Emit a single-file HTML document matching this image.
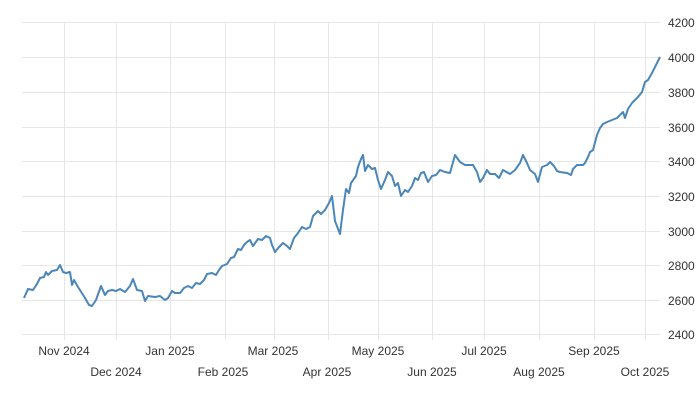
<!DOCTYPE html>
<html><head><meta charset="utf-8"><style>
body{margin:0;background:#fff;}
svg{display:block;font-family:"Liberation Sans",sans-serif;}
</style></head><body>
<svg width="700" height="400" xmlns="http://www.w3.org/2000/svg">
<g stroke="#e6e6e6" stroke-width="1">
<line x1="22" y1="22.5" x2="660" y2="22.5"/>
<line x1="22" y1="57.5" x2="660" y2="57.5"/>
<line x1="22" y1="92.5" x2="660" y2="92.5"/>
<line x1="22" y1="127.5" x2="660" y2="127.5"/>
<line x1="22" y1="161.5" x2="660" y2="161.5"/>
<line x1="22" y1="196.5" x2="660" y2="196.5"/>
<line x1="22" y1="231.5" x2="660" y2="231.5"/>
<line x1="22" y1="265.5" x2="660" y2="265.5"/>
<line x1="22" y1="300.5" x2="660" y2="300.5"/>
<line x1="22" y1="334.5" x2="660" y2="334.5"/>
<line x1="64.5" y1="22" x2="64.5" y2="340"/>
<line x1="116.5" y1="22" x2="116.5" y2="340"/>
<line x1="170.5" y1="22" x2="170.5" y2="340"/>
<line x1="225.5" y1="22" x2="225.5" y2="340"/>
<line x1="274.5" y1="22" x2="274.5" y2="340"/>
<line x1="328.5" y1="22" x2="328.5" y2="340"/>
<line x1="378.5" y1="22" x2="378.5" y2="340"/>
<line x1="432.5" y1="22" x2="432.5" y2="340"/>
<line x1="484.5" y1="22" x2="484.5" y2="340"/>
<line x1="539.5" y1="22" x2="539.5" y2="340"/>
<line x1="594.5" y1="22" x2="594.5" y2="340"/>
<line x1="645.5" y1="22" x2="645.5" y2="340"/>
</g>
<polyline fill="none" stroke="#4a86b8" stroke-width="2" stroke-linejoin="round" points="24,298 28,289 33,290 37,284 40,278 44,277 46,272 48,275 52,271 57,270 60,265 63,272 66,273 70,272 72,285 74,280 78,287 85,298 89,305 92,306 96,300 101,286 105,295 108,291 112,290 116,291 120,289 125,292 130,286 133,279 137,290 142,291 145,301 148,296 155,297 160,296 165,300 168,298 172,291 175,293 180,293 184,288 188,286 192,288 196,283 200,284 204,280 207,274 212,273 216,275 219,270 222,266 227,264 231,258 234,257 238,249 241,250 244,245 247,242 250,240 253,246 258,239 262,240 266,236 270,238 272,245 275,252 279,247 283,243 287,246 290,249 294,238 298,233 302,227 306,229 310,227 313,216 318,211 321,214 325,210 329,203 332,196 335,221 340,234 343,210 346,189 349,193 351,183 356,176 358,167 361,159 363,155 365,171 368,165 372,169 375,168 378,180 381,189 385,180 388,172 392,176 395,186 398,183 401,196 405,190 408,192 412,186 415,178 418,180 421,173 424,172 428,182 432,176 436,175 440,170 445,172 450,173 455,155 460,162 465,165 473,165 477,172 480,182 483,178 487,170 490,174 495,174 499,178 503,170 510,174 515,170 520,163 523,155 527,163 530,170 535,174 538,182 542,167 547,165 550,162 554,166 557,171 560,172 567,173 571,175 573,169 577,165 583,165 585,163 588,157 590,152 593,150 597,135 600,128 603,124 607,122 612,120 617,118 620,115 623,112 625,118 628,109 632,103 635,100 638,97 642,92 645,82 648,80 652,73 660,57"/>
<g font-size="12" fill="#333">
<text x="668" y="27">4200</text>
<text x="668" y="62">4000</text>
<text x="668" y="97">3800</text>
<text x="668" y="132">3600</text>
<text x="668" y="166">3400</text>
<text x="668" y="201">3200</text>
<text x="668" y="236">3000</text>
<text x="668" y="270">2800</text>
<text x="668" y="305">2600</text>
<text x="668" y="339">2400</text>
</g>
<g font-size="12" fill="#333" text-anchor="middle">
<text x="64" y="355">Nov 2024</text>
<text x="116" y="376">Dec 2024</text>
<text x="170" y="355">Jan 2025</text>
<text x="223" y="376">Feb 2025</text>
<text x="273" y="355">Mar 2025</text>
<text x="327" y="376">Apr 2025</text>
<text x="378" y="355">May 2025</text>
<text x="432" y="376">Jun 2025</text>
<text x="484" y="355">Jul 2025</text>
<text x="539" y="376">Aug 2025</text>
<text x="594" y="355">Sep 2025</text>
<text x="645" y="376">Oct 2025</text>
</g>
</svg>
</body></html>
